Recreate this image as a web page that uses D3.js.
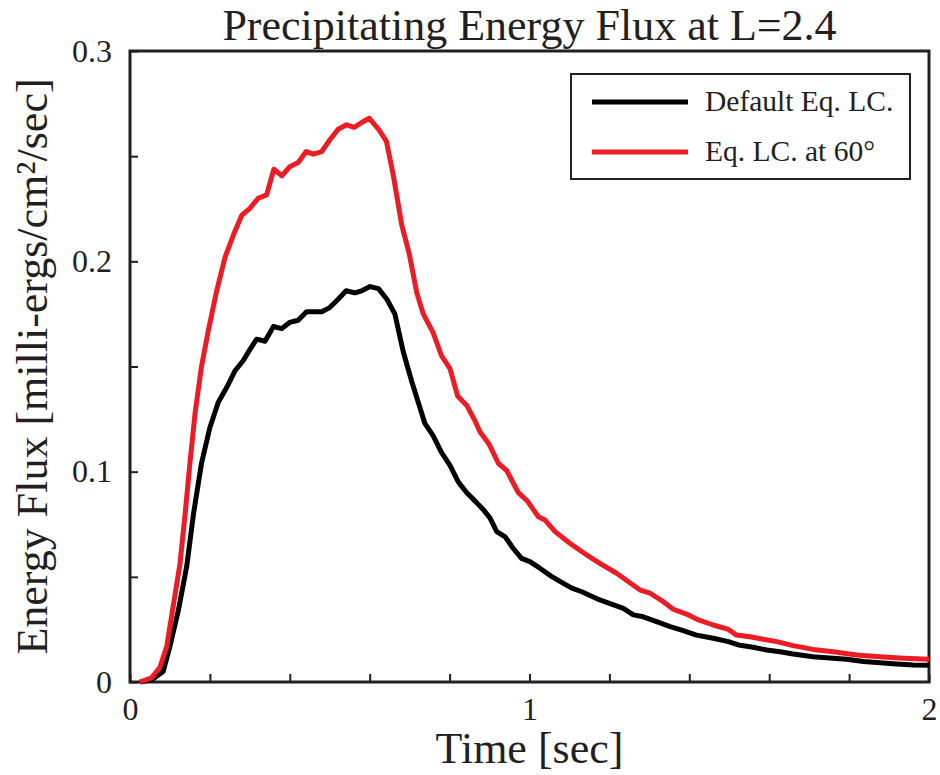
<!DOCTYPE html>
<html>
<head>
<meta charset="utf-8">
<script src="https://cdn.jsdelivr.net/npm/d3@7"></script>
<style>
  body { margin: 0; background: #fff; }
  #chart { width: 940px; height: 775px; }
</style>
</head>
<body>
<div id="chart"></div>
<script>
// values
const seriesNames = ['Default Eq. LC.', 'Eq. LC. at 60°'];
const seriesColors = ['#000000', '#ed1c24'];

const defaultTime = [0.025,0.054,0.083,0.100,0.121,0.142,0.159,0.179,0.200,0.221,0.242,0.263,0.284,0.300,
  0.317,0.338,0.359,0.380,0.400,0.421,0.442,0.480,0.500,0.521,0.541,0.563,0.580,0.601,0.622,0.643,0.663,
  0.684,0.705,0.738,0.759,0.780,0.801,0.822,0.843,0.864,0.884,0.901,0.918,0.939,0.959,0.980,1.001,1.026,
  1.056,1.085,1.106,1.131,1.176,1.200,1.235,1.260,1.285,1.318,1.352,1.381,1.418,1.460,1.498,1.523,1.560,
  1.594,1.627,1.660,1.710,1.760,1.794,1.836,1.877,1.919,1.961,2.000];
const defaultFlux = [0,0.001,0.005,0.017,0.034,0.055,0.080,0.104,0.121,0.133,0.140,0.148,0.153,0.158,
  0.163,0.162,0.169,0.168,0.171,0.172,0.176,0.176,0.178,0.182,0.186,0.185,0.186,0.188,0.187,0.182,0.175,
  0.157,0.143,0.123,0.117,0.109,0.103,0.095,0.090,0.086,0.082,0.078,0.0715,0.069,0.0636,0.0588,0.0572,0.0541,
  0.0501,0.0469,0.0446,0.0429,0.039,0.0374,0.035,0.0319,0.031,0.0287,0.0263,0.0247,0.0223,0.0208,0.0192,0.0176,0.0165,
  0.0152,0.0144,0.0133,0.0120,0.0113,0.0108,0.0097,0.0092,0.0086,0.0081,0.0080];

const lc60Time = [0.025,0.054,0.075,0.092,0.108,0.125,0.138,0.150,0.163,0.179,0.196,0.217,0.238,0.259,
  0.280,0.300,0.321,0.342,0.360,0.380,0.400,0.421,0.441,0.459,0.480,0.500,0.521,0.542,0.561,0.580,0.599,
  0.622,0.642,0.659,0.680,0.699,0.718,0.734,0.759,0.780,0.801,0.820,0.843,0.864,0.876,0.899,0.922,0.943,
  0.972,0.995,1.022,1.039,1.064,1.101,1.143,1.176,1.218,1.260,1.277,1.302,1.335,1.360,1.398,1.423,1.460,
  1.498,1.518,1.552,1.585,1.619,1.660,1.710,1.760,1.819,1.877,1.936,2.000];
const lc60Flux = [0,0.002,0.007,0.017,0.036,0.056,0.080,0.104,0.128,0.150,0.167,0.186,0.202,0.2126,
  0.222,0.2252,0.230,0.2316,0.2438,0.2406,0.245,0.247,0.2522,0.251,0.2522,0.2577,0.2628,0.2649,0.2637,0.266,0.268,
  0.2628,0.257,0.241,0.2175,0.2035,0.185,0.175,0.166,0.155,0.149,0.136,0.1315,0.124,0.119,0.113,0.104,0.1005,
  0.090,0.086,0.0786,0.077,0.0715,0.066,0.0604,0.0564,0.0517,0.046,0.0437,0.0422,0.0382,0.0346,0.0319,0.0295,0.0271,
  0.0250,0.0223,0.0215,0.0203,0.0192,0.0173,0.0155,0.0144,0.0128,0.0120,0.0113,0.0108];

const xTicks = [0,0.2,0.4,0.6,0.8,1,1.2,1.4,1.6,1.8,2];
const yTicks = [0,0.05,0.1,0.15,0.2,0.25,0.3];

const FONT = '"Liberation Serif", "Times New Roman", serif';
const AXIS = '#231f20';

class Chart{
  constructor(opts){
    this.element = opts.element;
    this.series = opts.series;
  }

  draw(){
    this.width = 940;
    this.height = 775;
    this.margin = { top: 51, bottom: 93, left: 130, right: 11 };

    const svg = d3.select(this.element).append('svg')
                  .attr('width', this.width)
                  .attr('height', this.height);
    this.svg = svg;
    this.plot = svg.append('g')
                   .attr('transform', `translate(${this.margin.left},${this.margin.top})`);

    this.createScales();
    this.addAxes();
    this.addLines();
    this.addLegend();
    this.addLabels();
  }

  createScales(){
    const m = this.margin;
    this.w = this.width - m.left - m.right;
    this.h = this.height - m.top - m.bottom;
    this.xScale = d3.scaleLinear().domain([0, 2]).range([0, this.w]);
    this.yScale = d3.scaleLinear().domain([0, 0.3]).range([this.h, 0]);
  }

  addAxes(){
    const isWhole = (d, k) => Math.abs(d * k - Math.round(d * k)) < 1e-6;

    const xAxis = d3.axisBottom(this.xScale)
                    .tickValues(xTicks)
                    .tickSize(-8)
                    .tickSizeOuter(0)
                    .tickPadding(15)
                    .tickFormat(d => isWhole(d, 1) ? d3.format('d')(d) : '');

    const yAxis = d3.axisLeft(this.yScale)
                    .tickValues(yTicks)
                    .tickSize(-8)
                    .tickSizeOuter(0)
                    .tickPadding(18)
                    .tickFormat(d => isWhole(d, 10) ? (d === 0 ? '0' : d3.format('.1f')(d)) : '');

    const gx = this.plot.append('g')
             .attr('class', 'x axis')
             .attr('transform', `translate(0,${this.h})`)
             .call(xAxis);
    const gy = this.plot.append('g')
             .attr('class', 'y axis')
             .call(yAxis);

    [gx, gy].forEach(g => {
      g.select('.domain').remove();
      g.selectAll('line').attr('stroke', AXIS).attr('stroke-width', 2);
      g.selectAll('text')
       .style('font-family', FONT)
       .style('font-size', '32px')
       .attr('fill', AXIS);
    });

    // box around the plot
    this.plot.append('rect')
             .attr('x', 0)
             .attr('y', 0)
             .attr('width', this.w)
             .attr('height', this.h)
             .attr('fill', 'none')
             .attr('stroke', AXIS)
             .attr('stroke-width', 3);
  }

  addLines(){
    const line = d3.line()
                   .x(d => this.xScale(d.t))
                   .y(d => this.yScale(d.v));

    this.plot.append('g')
             .selectAll('path')
             .data(this.series)
             .join('path')
             .attr('d', d => line(d.values))
             .attr('fill', 'none')
             .attr('stroke', d => d.color)
             .attr('stroke-width', 5)
             .attr('stroke-linejoin', 'round');
  }

  addLegend(){
    const lg = this.svg.append('g').attr('transform', 'translate(571,74)');
    lg.append('rect')
      .attr('width', 339)
      .attr('height', 105)
      .attr('fill', '#fff')
      .attr('stroke', AXIS)
      .attr('stroke-width', 2);

    const item = lg.selectAll('.item')
                   .data(this.series)
                   .join('g')
                   .attr('class', 'item')
                   .attr('transform', (d, i) => `translate(0,${28 + i * 50})`);
    item.append('line')
        .attr('x1', 21).attr('x2', 117)
        .attr('stroke', d => d.color)
        .attr('stroke-width', 5);
    item.append('text')
        .attr('x', 134)
        .attr('y', 9)
        .style('font-family', FONT)
        .style('font-size', '29.5px')
        .attr('fill', AXIS)
        .text(d => d.name);
  }

  addLabels(){
    const m = this.margin;
    this.svg.append('text')
            .attr('x', m.left + this.w / 2)
            .attr('y', 40)
            .attr('text-anchor', 'middle')
            .style('font-family', FONT)
            .style('font-size', '44px')
            .attr('fill', AXIS)
            .text('Precipitating Energy Flux at L=2.4');

    this.svg.append('text')
            .attr('x', m.left + this.w / 2)
            .attr('y', 763)
            .attr('text-anchor', 'middle')
            .style('font-family', FONT)
            .style('font-size', '44px')
            .attr('fill', AXIS)
            .text('Time [sec]');

    this.svg.append('text')
            .attr('transform', `translate(47,${m.top + this.h / 2}) rotate(-90)`)
            .attr('text-anchor', 'middle')
            .style('font-family', FONT)
            .style('font-size', '44px')
            .attr('fill', AXIS)
            .text('Energy Flux [milli-ergs/cm²/sec]');
  }
}

const series = [
  { name: seriesNames[0], color: seriesColors[0], values: defaultTime.map((t, i) => ({ t, v: defaultFlux[i] })) },
  { name: seriesNames[1], color: seriesColors[1], values: lc60Time.map((t, i) => ({ t, v: lc60Flux[i] })) }
];

const chart = new Chart({ element: document.getElementById('chart'), series });
chart.draw();
</script>
</body>
</html>
